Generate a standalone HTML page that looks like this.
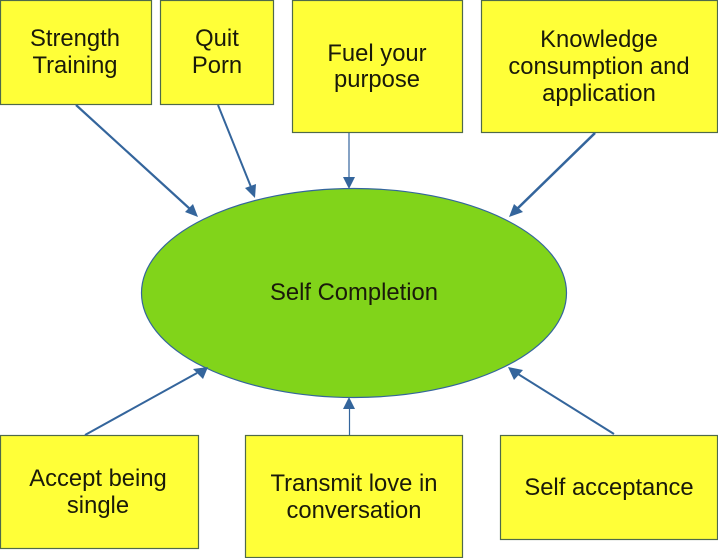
<!DOCTYPE html>
<html>
<head>
<meta charset="utf-8">
<style>
html,body{margin:0;padding:0;background:#fff;width:718px;height:558px;overflow:hidden}
svg{display:block}
text{font-family:"Liberation Sans",sans-serif;font-size:23.8px;fill:#1a1a0a;text-anchor:middle}
.b{fill:#ffff38;stroke:#4f6a4a;stroke-width:1.2}
.l{stroke:#34659c;fill:none}
.a{fill:#34659c}
</style>
</head>
<body>
<svg width="718" height="558" viewBox="0 0 718 558" xmlns="http://www.w3.org/2000/svg">
<rect width="718" height="558" fill="#fff"/>

<ellipse cx="354" cy="293" rx="212.500" ry="104.500" fill="#81d41a" stroke="#34659c" stroke-width="1.200"/>

<rect class="b" x="0.500" y="0.500" width="151" height="104"/>
<rect class="b" x="160.500" y="0.500" width="113" height="104"/>
<rect class="b" x="292.500" y="0.500" width="170" height="132"/>
<rect class="b" x="481.500" y="0.500" width="236" height="132"/>
<rect class="b" x="0.500" y="435.500" width="198" height="113"/>
<rect class="b" x="245.500" y="435.500" width="217" height="122"/>
<rect class="b" x="500.500" y="435.500" width="217" height="104"/>

<line class="l" stroke-width="2.200" x1="76" y1="105" x2="190" y2="209"/>
<polygon class="a" points="198,217 185,212 193,204"/>
<line class="l" stroke-width="2" x1="218" y1="105" x2="251" y2="187"/>
<polygon class="a" points="255,198 245,188 256,184"/>
<line class="l" stroke-width="1.200" x1="349" y1="133" x2="349" y2="178"/>
<polygon class="a" points="349,189 343,177 355,177"/>
<line class="l" stroke-width="2.600" x1="595" y1="133" x2="517" y2="209"/>
<polygon class="a" points="509,217 514,204 523,212"/>
<line class="l" stroke-width="2" x1="85" y1="435" x2="197" y2="373"/>
<polygon class="a" points="208,367 203,379 193,369"/>
<line class="l" stroke-width="1.200" x1="349.500" y1="435" x2="349.500" y2="407"/>
<polygon class="a" points="349,397 343,409 355,409"/>
<line class="l" stroke-width="2" x1="614" y1="434" x2="518" y2="374"/>
<polygon class="a" points="508,367 523,370 514,380"/>

<text x="75" y="46">Strength</text>
<text x="75" y="73">Training</text>
<text x="217" y="46">Quit</text>
<text x="217" y="73">Porn</text>
<text x="377" y="61">Fuel your</text>
<text x="377" y="87">purpose</text>
<text x="599" y="47">Knowledge</text>
<text x="599" y="74">consumption and</text>
<text x="599" y="101">application</text>
<text x="354" y="300">Self Completion</text>
<text x="98" y="486">Accept being</text>
<text x="98" y="513">single</text>
<text x="354" y="491">Transmit love in</text>
<text x="354" y="518">conversation</text>
<text x="609" y="495">Self acceptance</text>
</svg>
</body>
</html>
